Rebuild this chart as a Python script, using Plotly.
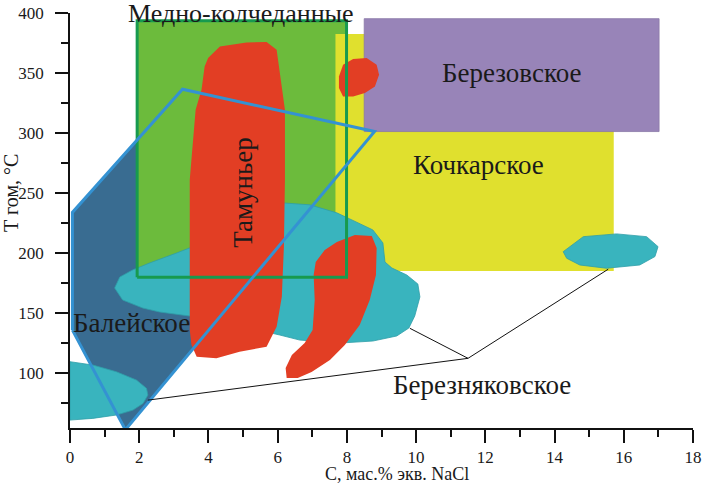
import plotly.graph_objects as go

# ---- data (x: C, mass.% eq. NaCl; y: T hom, °C) ----
baleiskoe_x = [0.07, 0.07, 3.25, 8.80, 1.60, 0.07]
baleiskoe_y = [136.0, 234.0, 336.5, 301.3, 53.0, 136.0]

medno_x = [1.94, 7.99, 7.99, 1.94, 1.94]
medno_y = [180.0, 180.0, 393.6, 393.6, 180.0]

kochkar_x = [7.67, 15.71, 15.71, 7.67, 7.67]
kochkar_y = [185.3, 185.3, 382.5, 382.5, 185.3]

berezov_x = [8.50, 17.02, 17.02, 8.50, 8.50]
berezov_y = [301.3, 301.3, 395.3, 395.3, 301.3]

cyan_main_x = [1.29, 1.44, 1.81, 2.30, 3.08, 3.75, 4.90, 6.15, 6.93, 7.71, 8.08, 8.75,
               9.04, 9.10, 9.30, 9.73, 10.05, 10.11, 9.96, 9.79, 9.44, 8.75, 7.79,
               6.64, 6.06, 5.19, 3.46, 2.59, 2.10, 1.52, 1.29]
cyan_main_y = [171.1, 180.2, 186.1, 191.9, 200.2, 207.7, 223.6, 241.9, 240.3, 233.6,
               228.6, 219.4, 208.6, 192.7, 187.7, 181.9, 174.4, 163.6, 147.7, 137.7,
               131.1, 126.9, 125.2, 127.7, 131.9, 137.7, 147.7, 151.1, 154.4, 161.1, 171.1]

cyan_low_x = [0.0, 0.66, 1.34, 1.92, 2.21, 2.25, 2.11, 1.82, 1.34, 0.66, 0.0, 0.0]
cyan_low_y = [109.7, 106.9, 101.3, 94.4, 87.5, 81.9, 75.0, 69.4, 65.3, 62.5, 61.1, 109.7]

cyan_right_x = [14.25, 14.83, 15.79, 16.66, 16.99, 16.90, 16.46, 15.50, 14.73, 14.35, 14.25]
cyan_right_y = [201.3, 213.8, 216.1, 213.8, 205.5, 197.2, 190.2, 187.5, 190.2, 195.8, 201.3]

tamun_x = [3.99, 4.33, 5.10, 5.68, 5.97, 6.11, 6.21, 6.21, 6.18, 6.12, 5.97, 5.68,
           4.90, 4.23, 3.66, 3.51, 3.46, 3.46, 3.63, 3.80, 3.89, 3.99]
tamun_y = [362.5, 372.2, 375.5, 375.8, 369.4, 341.7, 319.4, 261.1, 205.5, 163.8,
           138.8, 122.2, 118.0, 112.5, 113.8, 123.6, 136.1, 261.1, 319.4, 336.1, 355.5, 362.5]

red2_x = [7.10, 7.36, 7.71, 8.23, 8.72, 8.86, 8.84, 8.66, 8.37, 7.94, 7.51, 6.98,
          6.58, 6.26, 6.23, 6.41, 6.78, 7.01, 7.07, 7.04, 7.10]
red2_y = [192.7, 202.7, 209.4, 215.2, 214.4, 204.4, 181.9, 161.1, 140.2, 123.6, 111.1,
          101.1, 96.1, 96.1, 104.4, 115.2, 125.2, 136.1, 161.1, 181.9, 192.7]

red3_x = [7.77, 7.89, 8.18, 8.57, 8.86, 8.93, 8.81, 8.52, 8.18, 7.89, 7.77, 7.77]
red3_y = [347.2, 356.9, 361.7, 362.5, 356.9, 348.6, 338.8, 333.3, 330.5, 330.5, 337.5, 347.2]

# leader lines for "Березняковское"
leader_x = [9.82, 11.50, 15.55, None, 11.50, 2.25]
leader_y = [137.5, 112.5, 186.7, None, 112.5, 77.7]

labels = ["Березовское", "Кочкарское", "Тамуньер", "Балейское", "Березняковское"]
label_x = [12.76, 11.79, 5.0, 1.77, 11.89]
label_y = [350.0, 273.6, 250.3, 141.7, 90.2]
label_angle = [0, 0, -90, 0, 0]

top_label = "Медно-колчеданные"
top_label_x = 4.95

x_ticks = [0, 2, 4, 6, 8, 10, 12, 14, 16, 18]
y_ticks = [100, 150, 200, 250, 300, 350, 400]

# ---- styles ----
C_DARKBLUE = "#396c91"
C_BLUELINE = "#3492d2"
C_GREEN = "#6cbb3c"
C_GREENLINE = "#179a4f"
C_YELLOW = "#e0e02e"
C_PURPLE = "#9884b8"
C_CYAN = "#39b4be"
C_RED = "#e23e24"
FONT = "Liberation Serif, Times New Roman, serif"
TXT = "#1a1a1a"

fig = go.Figure()

def poly(x, y, fill, line_color=None, line_width=0):
    fig.add_trace(go.Scatter(
        x=x, y=y, mode="lines", fill="toself", fillcolor=fill,
        line=dict(color=line_color or fill, width=line_width),
        hoverinfo="skip", showlegend=False))

poly(baleiskoe_x, baleiskoe_y, C_DARKBLUE)
poly(medno_x, medno_y, C_GREEN)
poly(kochkar_x, kochkar_y, C_YELLOW)
poly(berezov_x, berezov_y, C_PURPLE, "#8a78a8", 0.8)
poly(cyan_main_x, cyan_main_y, C_CYAN, "#2e9ea8", 0.8)
poly(cyan_low_x, cyan_low_y, C_CYAN, "#2e9ea8", 0.8)
poly(cyan_right_x, cyan_right_y, C_CYAN, "#2e9ea8", 0.8)
poly(tamun_x, tamun_y, C_RED)
poly(red2_x, red2_y, C_RED)
poly(red3_x, red3_y, C_RED)

fig.add_trace(go.Scatter(x=medno_x, y=medno_y, mode="lines",
                         line=dict(color=C_GREENLINE, width=3),
                         hoverinfo="skip", showlegend=False))
fig.add_trace(go.Scatter(x=baleiskoe_x, y=baleiskoe_y, mode="lines",
                         line=dict(color=C_BLUELINE, width=3),
                         hoverinfo="skip", showlegend=False))
fig.add_trace(go.Scatter(x=leader_x, y=leader_y, mode="lines",
                         line=dict(color="#111111", width=1),
                         hoverinfo="skip", showlegend=False))

for t, x, y, a in zip(labels, label_x, label_y, label_angle):
    fig.add_annotation(x=x, y=y, xref="x", yref="y", text=t, showarrow=False,
                       textangle=a, font=dict(family=FONT, size=27, color=TXT),
                       xanchor="center", yanchor="middle")

fig.add_annotation(x=top_label_x, y=1.0, xref="x", yref="paper", text=top_label,
                   showarrow=False, font=dict(family=FONT, size=26, color=TXT),
                   xanchor="center", yanchor="middle")

fig.add_annotation(x=0.525, y=-0.111, xref="paper", yref="paper",
                   text="С, мас.% экв. NaCl", showarrow=False,
                   font=dict(family=FONT, size=18, color=TXT),
                   xanchor="center", yanchor="middle")
fig.add_annotation(x=-0.0947, y=0.566, xref="paper", yref="paper",
                   text="Т гом, °С", showarrow=False, textangle=-90,
                   font=dict(family=FONT, size=20, color=TXT),
                   xanchor="center", yanchor="middle")

axis_common = dict(showgrid=False, zeroline=False, showline=True, linecolor="#111111",
                   linewidth=1.5, ticks="outside", ticklen=13, tickwidth=1.5,
                   tickcolor="#111111", automargin=False,
                   tickfont=dict(family=FONT, size=17, color=TXT))

fig.update_xaxes(range=[0, 18], tickvals=x_ticks, ticklabelstandoff=0,
                 minor=dict(dtick=1, ticks="outside", ticklen=7, tickwidth=1.5,
                            tickcolor="#111111", showgrid=False),
                 **axis_common)
fig.update_yaxes(range=[54.5, 400], tickvals=y_ticks, ticklabelstandoff=8,
                 minor=dict(tick0=0, dtick=25, ticks="outside", ticklen=7, tickwidth=1.5,
                            tickcolor="#111111", showgrid=False),
                 **axis_common)

fig.update_layout(width=702, height=485, margin=dict(l=70, r=9, t=13, b=57),
                  plot_bgcolor="white", paper_bgcolor="white", showlegend=False)

fig.write_html("out.html", config={"displayModeBar": False},
               post_script="document.body.style.margin='0px';document.body.style.padding='0px';")
